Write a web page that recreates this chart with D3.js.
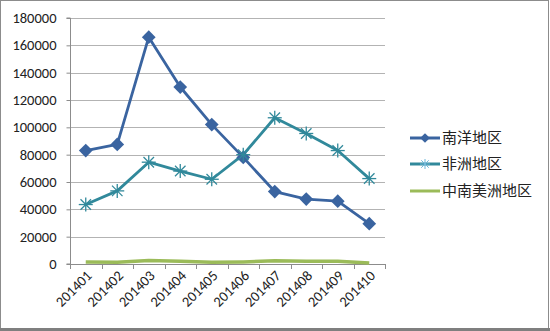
<!DOCTYPE html>
<html><head><meta charset="utf-8">
<script src="https://cdn.jsdelivr.net/npm/d3@7"></script>
<style>body{margin:0;background:#fff}svg{display:block}</style>
</head><body>
<script>
const categories = ["201401","201402","201403","201404","201405","201406","201407","201408","201409","201410"];
const seriesNames = ["南洋地区","非洲地区","中南美洲地区"];
const nanyang = [83000,87500,166000,129500,102000,78000,53000,47500,46000,29500];
const feizhou = [43500,53500,74500,68000,62000,80000,107000,95500,83000,62500];
const zhongnanmei = [1500,1200,2500,2000,1200,1500,2300,2000,2000,800];
const yTicks = [0,20000,40000,60000,80000,100000,120000,140000,160000,180000];
const colors = ["#3A64A0","#31899B","#9BBB59"];

(function(){
const W=550,H=331;
const svg=d3.select("body").append("svg").attr("width",W).attr("height",H);
svg.append("rect").attr("x",0.5).attr("y",0.5).attr("width",W-2).attr("height",H-3).attr("fill","#fff").attr("stroke","#8c8c8c");
svg.append("rect").attr("x",0).attr("y",H-3).attr("width",W).attr("height",3).attr("fill","#7f7f7f");

const pl=70,pr=385,pt=18,pb=264;
const x=d3.scaleBand().domain(categories).range([pl,pr]);
const y=d3.scaleLinear().domain([0,180000]).range([pb,pt]);
const font="Calibri, Carlito, 'Liberation Sans', Arial, sans-serif";

svg.append("g").selectAll("line").data(yTicks.slice(1)).join("line")
  .attr("x1",pl).attr("x2",pr).attr("y1",d=>Math.round(y(d))+0.5).attr("y2",d=>Math.round(y(d))+0.5)
  .attr("stroke","#b3b3b3").attr("stroke-width",1);

const ya=svg.append("g").attr("transform",`translate(${pl+0.5},0)`)
  .call(d3.axisLeft(y).tickValues(yTicks).tickSize(4).tickPadding(10).tickFormat(d3.format("d")));
ya.select(".domain").attr("stroke","#8c8c8c").attr("d",`M-4,${pb}H0V${pt}H-4`);
ya.selectAll(".tick line").attr("stroke","#8c8c8c");
ya.selectAll("text").attr("font-family",font).attr("font-size",14.5).attr("fill","#222");

const xa=svg.append("g").attr("transform",`translate(0,${pb+0.5})`)
  .call(d3.axisBottom(x).tickSize(0));
xa.select(".domain").attr("stroke","#8c8c8c").attr("d",`M${pl},0H${pr}`);
xa.selectAll(".tick line").remove();
svg.append("g").selectAll("line").data(d3.range(categories.length+1)).join("line")
  .attr("x1",i=>Math.round(pl+i*x.step())+0.5).attr("x2",i=>Math.round(pl+i*x.step())+0.5)
  .attr("y1",pb).attr("y2",pb+5).attr("stroke","#8c8c8c");
xa.selectAll("text").attr("font-family",font).attr("font-size",14.5).attr("fill","#222")
  .attr("text-anchor","end").attr("dy",0).attr("y",0)
  .attr("transform","translate(7,12) rotate(-45)");

const cx=d=>x(d)+x.bandwidth()/2;
const data=[nanyang,feizhou,zhongnanmei];
const line=d3.line().x((d,i)=>cx(categories[i])).y(d=>y(d));
data.forEach((vals,s)=>{
  svg.append("path").datum(vals).attr("d",line).attr("fill","none")
    .attr("stroke",colors[s]).attr("stroke-width",s===2?3.5:2.8).attr("stroke-linejoin","round");
});
svg.append("g").selectAll("path").data(nanyang).join("path")
  .attr("transform",(d,i)=>`translate(${cx(categories[i])},${y(d)})`)
  .attr("d",d3.symbol(d3.symbolDiamond2,120)).attr("fill",colors[0]);
const ast=(g,r)=>{
  g.append("line").attr("x1",-r).attr("x2",r).attr("y1",0).attr("y2",0);
  g.append("line").attr("x1",0).attr("x2",0).attr("y1",-r).attr("y2",r);
  g.append("line").attr("x1",-r*0.75).attr("x2",r*0.75).attr("y1",-r*0.75).attr("y2",r*0.75);
  g.append("line").attr("x1",-r*0.75).attr("x2",r*0.75).attr("y1",r*0.75).attr("y2",-r*0.75);
};
feizhou.forEach((d,i)=>{
  const g=svg.append("g").attr("transform",`translate(${cx(categories[i])},${y(d)})`)
    .attr("stroke",colors[1]).attr("stroke-width",1.3);
  ast(g,7);
});

const lg=svg.append("g");
const ly=[138,164,191];
seriesNames.forEach((n,s)=>{
  lg.append("line").attr("x1",410).attr("x2",440).attr("y1",ly[s]).attr("y2",ly[s])
    .attr("stroke",colors[s]).attr("stroke-width",3);
  if(s===0) lg.append("path").attr("transform",`translate(425,${ly[s]})`).attr("d",d3.symbol(d3.symbolDiamond2,60)).attr("fill",colors[0]);
  if(s===1){const g=lg.append("g").attr("transform",`translate(425,${ly[s]})`).attr("stroke","#6fb7d9").attr("stroke-width",1);ast(g,5);}
  lg.append("text").attr("x",442).attr("y",ly[s]).attr("dy","0.35em")
    .attr("font-family","'Noto Sans CJK SC', sans-serif").attr("font-size",15).attr("fill","#222").text(n);
});
})();
</script>
</body></html>
